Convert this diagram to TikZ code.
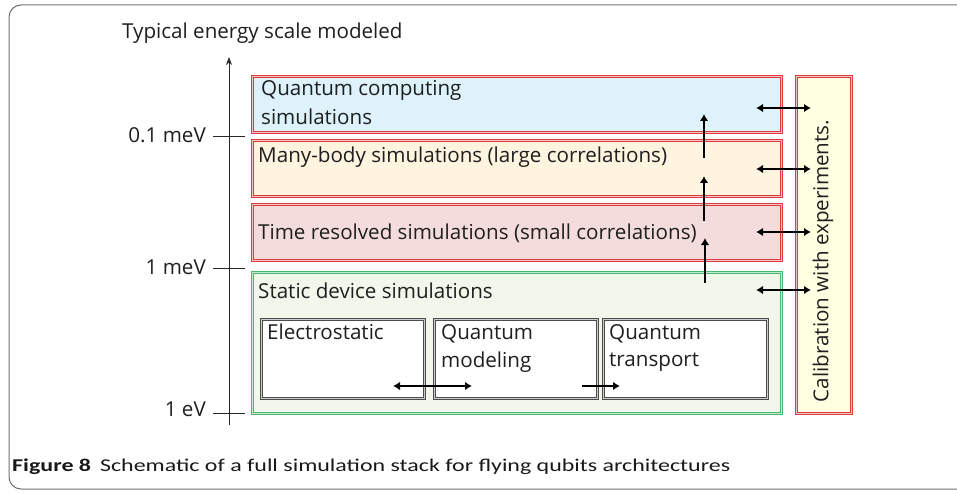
\documentclass[tikz,border=0pt]{standalone}
\usepackage{fontspec}
\setmainfont{Open Sans}
\newfontfamily\capfont[FakeStretch=1.33]{Carlito}
\usetikzlibrary{arrows.meta}
\definecolor{fblue}{RGB}{221,242,251}
\definecolor{fyellow}{RGB}{254,244,223}
\definecolor{fpink}{RGB}{244,220,220}
\definecolor{fgreen}{RGB}{242,247,235}
\definecolor{fcal}{RGB}{255,255,225}
\definecolor{bred}{RGB}{222,60,60}
\definecolor{bgreen}{RGB}{70,185,110}
\definecolor{frame}{RGB}{110,110,110}
\definecolor{axisc}{RGB}{40,40,40}
\tikzset{
  layer/.style={draw=bred, double=white!70!bred, double distance=1.1pt, line width=0.7pt, anchor=north west, inner sep=0pt},
  inbox/.style={draw=black!70, double=white!80!black, double distance=1.1pt, line width=0.7pt, fill=white, anchor=north west, inner sep=0pt},
  txt/.style={font=\fontsize{20.6}{24}\selectfont, text=black!88, inner sep=0pt, anchor=west},
  dblarr/.style={line width=2.4pt, {Latex[length=7pt,width=8.5pt]}-{Latex[length=7pt,width=8.5pt]}},
  uparr/.style={line width=2.4pt, -{Latex[length=7pt,width=8.5pt]}},
  tick/.style={line width=1pt, axisc},
}
\begin{document}
\begin{tikzpicture}[x=1pt,y=-1pt]
\useasboundingbox (0,0) rectangle (957,494);
% outer frame
\draw[frame, line width=1pt, rounded corners=12pt] (9,5) -- (990,5) -- (990,489) -- (9,489) -- cycle;
% title
\node[txt] (title) at (122,33) {Typical energy scale modeled};
% axis
\coordinate (axb) at (229,425);
\coordinate (axt) at (229,57);
\draw[line width=1pt, axisc, -{Stealth[length=8pt,width=6pt]}] (axb) -- (axt);
\coordinate (t1a) at (213,137); \coordinate (t1b) at (245,137);
\coordinate (t2a) at (213,268); \coordinate (t2b) at (245,268);
\coordinate (t3a) at (213,413); \coordinate (t3b) at (245,413);
\draw[tick] (t1a) -- (t1b);
\draw[tick] (t2a) -- (t2b);
\draw[tick] (t3a) -- (t3b);
\node[txt, anchor=east] (l1) at (206,135) {0.1 meV};
\node[txt, anchor=east] (l2) at (206,267) {1 meV};
\node[txt, anchor=east] (l3) at (206,409) {1 eV};
% layers
\node[layer, fill=fblue, minimum width=529pt, minimum height=56pt] (qc) at (252,76) {};
\node[layer, fill=fyellow, minimum width=529pt, minimum height=56pt] (mb) at (252,140) {};
\node[layer, fill=fpink, minimum width=529pt, minimum height=56pt] (tr) at (252,204) {};
\node[layer, draw=bgreen, double=white!70!bgreen, fill=fgreen, minimum width=529pt, minimum height=141pt] (sd) at (252,272) {};
\node[layer, fill=fcal, minimum width=55pt, minimum height=337pt] (cal) at (796,76) {};
% layer texts
\node[txt] (qct1) at (261,90) {Quantum computing};
\node[txt] (qct2) at (261,117) {simulations};
\node[txt] (mbt) at (258,157) {Many-body simulations (large correlations)};
\node[txt] (trt) at (258,233) {Time resolved simulations (small correlations)};
\node[txt] (sdt) at (258,291) {Static device simulations};
\node[txt, anchor=center, rotate=90] (calt) at (823,261) {Calibration with experiments.};
% inner boxes
\node[inbox, minimum width=163pt, minimum height=79pt] (es) at (261,319) {};
\node[inbox, minimum width=163pt, minimum height=79pt] (qm) at (434,319) {};
\node[inbox, minimum width=164pt, minimum height=79pt] (qt) at (603,319) {};
\node[txt] (est) at (267,332) {Electrostatic};
\node[txt] (qmt1) at (441,334) {Quantum};
\node[txt] (qmt2) at (441,362) {modeling};
\node[txt] (qtt1) at (609,334) {Quantum};
\node[txt] (qtt2) at (609,362) {transport};
% inner arrows
\coordinate (ia1) at (393,386); \coordinate (ia2) at (472,386);
\coordinate (ib1) at (582,386); \coordinate (ib2) at (620,386);
\draw[dblarr] (ia1) -- (ia2);
\draw[uparr] (ib1) -- (ib2);
% vertical arrows
\coordinate (v1a) at (704,158); \coordinate (v1b) at (704,114);
\coordinate (v2a) at (704,221); \coordinate (v2b) at (704,176);
\coordinate (v3a) at (705,283); \coordinate (v3b) at (705,238);
\draw[uparr] (v1a) -- (v1b);
\draw[uparr] (v2a) -- (v2b);
\draw[uparr] (v3a) -- (v3b);
% calibration arrows
\coordinate (h1a) at (756,108); \coordinate (h1b) at (811,108);
\coordinate (h2a) at (756,169); \coordinate (h2b) at (811,169);
\coordinate (h3a) at (756,232); \coordinate (h3b) at (811,232);
\coordinate (h4a) at (756,290); \coordinate (h4b) at (811,290);
\draw[dblarr] (h1a) -- (h1b);
\draw[dblarr] (h2a) -- (h2b);
\draw[dblarr] (h3a) -- (h3b);
\draw[dblarr] (h4a) -- (h4b);
% caption
\node[inner sep=0pt, anchor=west, font=\capfont\fontsize{18}{21}\selectfont, text=black!90] (cap) at (12,467) {\textbf{Figure 8}\hspace{9pt}Schematic of a full simulation stack for flying qubits architectures};
\end{tikzpicture}
\end{document}
